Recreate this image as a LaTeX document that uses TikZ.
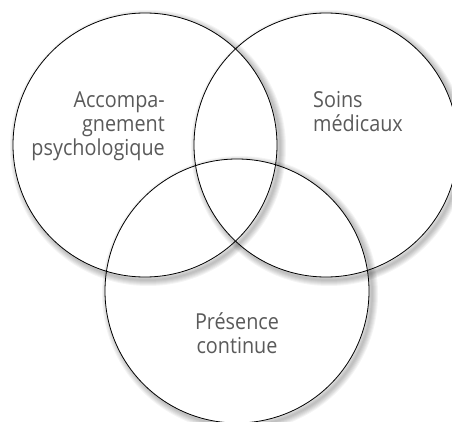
\documentclass[tikz,border=0pt]{standalone}
\usepackage{fontspec}
\setmainfont[FakeStretch=0.9]{Open Sans}
\usetikzlibrary{calc}
\definecolor{txtgray}{HTML}{5A5A5A}
\newcommand\vennshadow[1]{%
  \begin{scope}
    \clip (-10,10) -- (470,10) -- (470,-440) -- (-10,-440) -- cycle (#1) circle (132pt);
    \foreach \w in {2,4,6,8,10,12}
      \draw[line width=\w pt, black, opacity=0.045] ($(#1)+(3,-3)$) circle (132pt);
  \end{scope}}
\begin{document}
\begin{tikzpicture}[x=1pt,y=1pt,
  venn/.style={draw=black, line width=0.8pt},
  lbl/.style={text=txtgray, inner sep=0pt, font=\fontsize{22}{24}\selectfont}]
\useasboundingbox (0,0) rectangle (452,-422);
\fill[white] (0,0) rectangle (452,-422);
\coordinate (cl) at (145,-145);
\coordinate (cr) at (326,-145);
\coordinate (cb) at (237,-291);
\vennshadow{cl}
\vennshadow{cr}
\vennshadow{cb}
\node[venn, circle, minimum size=264pt, inner sep=0pt] (L) at (cl) {};
\node[venn, circle, minimum size=264pt, inner sep=0pt] (R) at (cr) {};
\node[venn, circle, minimum size=264pt, inner sep=0pt] (B) at (cb) {};
\node[lbl, anchor=base east] (a1) at (165,-108) {Accompa-};
\node[lbl, anchor=base east] (a2) at (165,-132) {gnement};
\node[lbl, anchor=base east] (a3) at (165,-156) {psychologique};
\node[lbl, anchor=base west] (s1) at (313,-108) {Soins};
\node[lbl, anchor=base west] (s2) at (313,-132) {médicaux};
\node[lbl, anchor=base] (p1) at (237,-329) {Présence};
\node[lbl, anchor=base] (p2) at (237,-353) {continue};
\end{tikzpicture}
\end{document}
